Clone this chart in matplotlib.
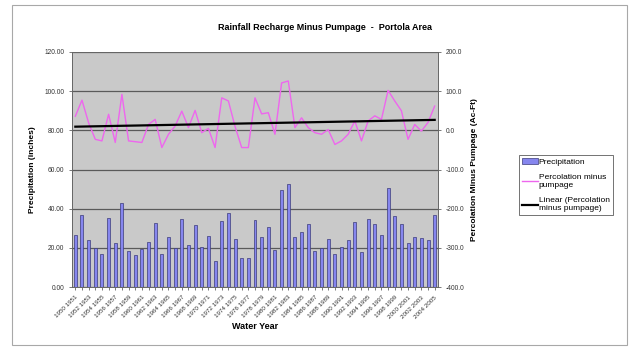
import numpy as np
import matplotlib
matplotlib.use("Agg")
import matplotlib.pyplot as plt
from matplotlib.patches import Rectangle
from matplotlib.lines import Line2D

plt.rcParams['font.family'] = ['Liberation Sans', 'DejaVu Sans']

# water years 1950-1951 .. 2004-2005
start_years = list(range(1950, 2005))
year_labels = [f"{y} {y + 1}" for y in start_years]

# precipitation, inches
precip = [26.7, 36.8, 23.8, 20.0, 17.1, 35.2, 22.7, 42.9, 18.6, 16.1,
          19.5, 23.1, 32.6, 17.1, 25.3, 20.0, 34.9, 21.7, 31.6, 20.3,
          26.0, 13.2, 33.8, 37.8, 24.4, 14.7, 14.7, 34.2, 25.3, 30.4,
          19.1, 49.4, 52.8, 25.3, 27.9, 32.3, 18.3, 20.0, 24.4, 16.8,
          20.5, 24.1, 33.3, 18.1, 34.9, 32.0, 26.7, 50.3, 36.1, 32.0,
          22.7, 25.6, 24.9, 23.8, 36.9]

# percolation minus pumpage, Ac-Ft
perc_minus_pump = [36, 77, 19, -23, -27, 41, -31, 92, -27, -29,
                   -31, 15, 28, -44, -10, 11, 49, 7, 51, -6,
                   5, -44, 83, 75, 10, -44, -44, 83, 42, 45,
                   -10, 121, 126, 7, 32, 7, -6, -10, 2, -36,
                   -27, -10, 24, -27, 24, 37, 28, 102, 75, 50,
                   -23, 15, -2, 20, 62]

bar_color = '#8686EE'
bar_edge = '#3a3a7a'
line_color = '#EE66EE'

x = np.arange(len(precip))
slope, intercept = np.polyfit(x, perc_minus_pump, 1)
trend = slope * x + intercept

fig = plt.figure(figsize=(6.3, 3.52), dpi=100)
fig.patches.append(Rectangle((12 / 630, 1 - 345 / 352), 615 / 630, 340 / 352,
                             transform=fig.transFigure, fill=False,
                             edgecolor='#a8a8a8', linewidth=0.8))

ax = fig.add_axes([72 / 630, 1 - 287 / 352, 366 / 630, 235 / 352])
ax.set_facecolor('#c9c9c9')
ax.set_axisbelow(True)
ax.bar(x, precip, width=0.45, color=bar_color, edgecolor=bar_edge, linewidth=0.5,
       zorder=2)
ax.set_xlim(-0.5, len(x) - 0.5)
ax.set_ylim(0, 120)
ax.set_yticks(np.arange(0, 121, 20))
ax.set_yticklabels([f"{v:.2f}" for v in np.arange(0, 121, 20)])
ax.yaxis.grid(True, color='#5a5a5a', linewidth=0.9)
ax.set_xticks(x[::2])
ax.set_xticklabels(year_labels[::2], rotation=45, ha='right',
                   rotation_mode='anchor', fontsize=4.5)
ax.set_xticks(x[1::2], minor=True)
ax.tick_params(axis='both', which='both', length=2, width=0.5, colors='#444444',
               labelcolor='#333333')
ax.tick_params(axis='y', labelsize=4.8)
for s in ax.spines.values():
    s.set_color('#666666')
    s.set_linewidth(0.6)
ax.set_ylabel('Precipitation (inches)', fontsize=6, fontweight='bold', labelpad=6)
ax.set_xlabel('Water Year', fontsize=6.5, fontweight='bold', labelpad=2)

ax2 = ax.twinx()
ax2.plot(x, perc_minus_pump, color=line_color, linewidth=1.0, zorder=3)
ax2.plot(x, trend, color='black', linewidth=1.6, zorder=4)
ax2.set_ylim(-400, 200)
ax2.set_yticks(np.arange(-400, 201, 100))
ax2.set_yticklabels([f"{v:.1f}" for v in np.arange(-400, 201, 100)])
ax2.tick_params(axis='y', length=2, width=0.5, colors='#444444',
                labelcolor='#333333', labelsize=4.8)
for s in ax2.spines.values():
    s.set_color('#666666')
    s.set_linewidth(0.6)
ax2.set_ylabel('Percolation Minus Pumpage (Ac-Ft)', fontsize=6, fontweight='bold',
               labelpad=5)

fig.text(325 / 630, 1 - 27 / 352, 'Rainfall Recharge Minus Pumpage  -  Portola Area',
         ha='center', va='center', fontsize=6.5, fontweight='bold')

handles = [Rectangle((0, 0), 1, 1, facecolor=bar_color, edgecolor=bar_edge, linewidth=0.5),
           Line2D([], [], color=line_color, linewidth=1.0),
           Line2D([], [], color='black', linewidth=1.6)]
labels = ['Precipitation', 'Percolation minus\npumpage',
          'Linear (Percolation\nminus pumpage)']
leg = fig.legend(handles, labels, loc='upper left',
                 bbox_to_anchor=(519 / 630, 1 - 155 / 352),
                 bbox_transform=fig.transFigure, fontsize=6, frameon=True,
                 fancybox=False, handlelength=1.9, handletextpad=0.1,
                 labelspacing=1.0, borderpad=0.35, borderaxespad=0)
leg.get_frame().set_edgecolor('#333333')
leg.get_frame().set_linewidth(0.6)

fig.savefig('out.png', dpi=100)
